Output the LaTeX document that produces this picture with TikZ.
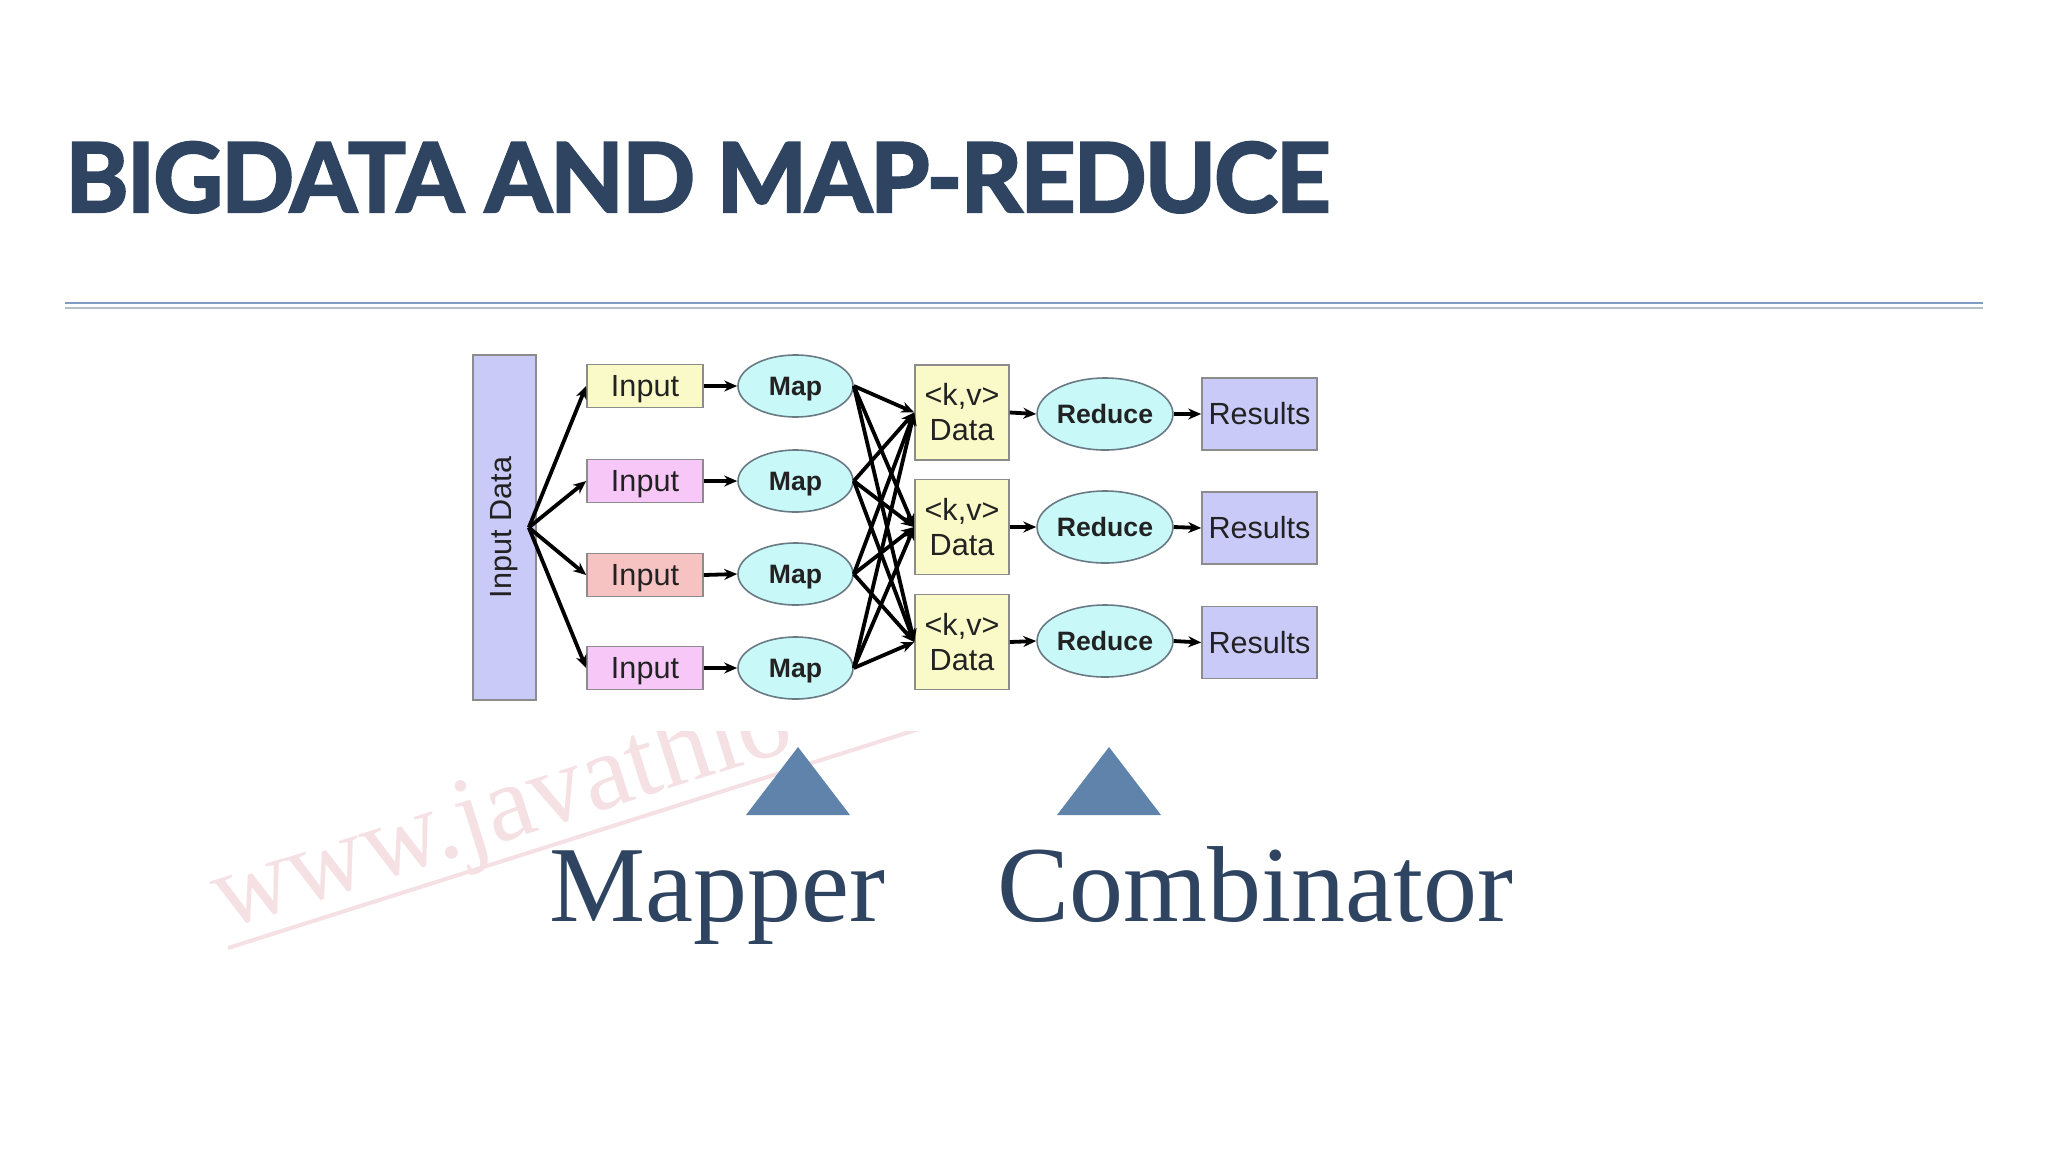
\documentclass[tikz,border=0pt]{standalone}
\usepackage{fontspec}
\setmainfont{Liberation Serif}
\newfontfamily\diagfont{Liberation Sans}
\newfontfamily\titlefont{Lato}[LetterSpace=-2,BoldFeatures={FakeBold=2.5}]
\usetikzlibrary{shapes.geometric,arrows.meta}
\definecolor{titleblue}{HTML}{2E4461}
\definecolor{rulebl}{HTML}{7E9CC2}
\definecolor{rulegr}{HTML}{B5BDC8}
\definecolor{triblue}{HTML}{5F83AB}
\definecolor{lav}{HTML}{CACAF9}
\definecolor{lyel}{HTML}{FAFAC8}
\definecolor{lpink}{HTML}{F7C8F7}
\definecolor{lsalmon}{HTML}{F7C2C2}
\definecolor{lcyan}{HTML}{C8F8F8}
\definecolor{boxline}{HTML}{8C8C8C}
\definecolor{ovalline}{HTML}{6A7A84}
\definecolor{wmark}{HTML}{F5E0E4}
\definecolor{dtext}{HTML}{222222}
\begin{document}
\begin{tikzpicture}[x=0.5pt,y=-0.5pt,
  box/.style={draw=boxline, line width=0.8pt, inner sep=0pt, text=dtext,
    font=\diagfont\fontsize{15.3}{17.5}\selectfont},
  inbox/.style={box, minimum width=58pt, minimum height=21.5pt, text depth=0pt},
  databox/.style={box, fill=lyel, minimum width=47pt, minimum height=47.5pt, align=center},
  resbox/.style={box, fill=lav, minimum width=57.5pt, minimum height=36pt},
  oval/.style={ellipse, draw=ovalline, fill=lcyan, line width=0.8pt, inner sep=0pt, text=dtext,
    font=\diagfont\bfseries\fontsize{13.3}{15}\selectfont},
  mapoval/.style={oval, minimum width=57.5pt, minimum height=31pt, text depth=0pt},
  redoval/.style={oval, minimum width=57pt, minimum height=36pt},
  arr/.style={-{Stealth[length=6.5pt,width=5.5pt]}, line width=1.9pt, black},
  tri/.style={fill=triblue},
  label/.style={anchor=base west, inner sep=0pt, text=titleblue, font=\fontsize{54}{60}\selectfont}
]
\useasboundingbox (0,0) rectangle (2048,1152);
\fill[white] (0,0) rectangle (2048,1152);

% watermark
\begin{scope}
  \clip (0,731) rectangle (2048,1152);
  \node[rotate=17.6, anchor=base west, inner sep=0pt, text=wmark,
    font=\fontsize{54}{60}\selectfont] (wm) at (224,930) {www.javathio};
  \draw[wmark, line width=2pt] (228,948) -- (1086,676);
\end{scope}

% title
\node[anchor=base west, inner sep=0pt, text=titleblue,
  font=\titlefont\bfseries\fontsize{48}{56}\selectfont] (title) at (65,212) {BIGDATA AND MAP-REDUCE};
\draw[rulebl, line width=1pt] (65,303) -- (1983,303);
\draw[rulegr, line width=1.2pt] (65,308) -- (1983,308);

% diagram
\node[box, fill=lav, minimum width=31.5pt, minimum height=172.5pt] (ind) at (504.5,527.5)
  {\rotatebox{90}{Input Data}};
\node[inbox, fill=lyel] (in1) at (645,386) {Input};
\node[inbox, fill=lpink] (in2) at (645,481) {Input};
\node[inbox, fill=lsalmon] (in3) at (645,575) {Input};
\node[inbox, fill=lpink] (in4) at (645,668) {Input};
\node[mapoval] (map1) at (795.5,386) {Map};
\node[mapoval] (map2) at (795.5,481) {Map};
\node[mapoval] (map3) at (795.5,574) {Map};
\node[mapoval] (map4) at (795.5,668) {Map};
\node[databox] (d1) at (962,412.5) {<k,v>\\Data};
\node[databox] (d2) at (962,527) {<k,v>\\Data};
\node[databox] (d3) at (962,642) {<k,v>\\Data};
\node[redoval] (red1) at (1105,414) {Reduce};
\node[redoval] (red2) at (1105,527) {Reduce};
\node[redoval] (red3) at (1105,641) {Reduce};
\node[resbox] (res1) at (1259.5,414) {Results};
\node[resbox] (res2) at (1259.5,528) {Results};
\node[resbox] (res3) at (1259.5,642.5) {Results};

\foreach \i in {1,...,4} {
  \draw[arr] ([xshift=-4pt]ind.east) -- (in\i.west);
  \draw[arr] (in\i.east) -- (map\i.west);
  \foreach \j in {1,2,3} {
    \draw[arr] (map\i.east) -- (d\j.west);
  }
}
\foreach \j in {1,2,3} {
  \draw[arr] (d\j.east) -- (red\j.west);
  \draw[arr] (red\j.east) -- (res\j.west);
}

% markers and labels
\fill[tri] (798,747) -- (850,815) -- (746,815) -- cycle;
\fill[tri] (1109,747) -- (1161,815) -- (1057,815) -- cycle;
\node[label] (mapper) at (549,921) {Mapper};
\node[label] (comb) at (997,921) {Combinator};
\end{tikzpicture}
\end{document}
